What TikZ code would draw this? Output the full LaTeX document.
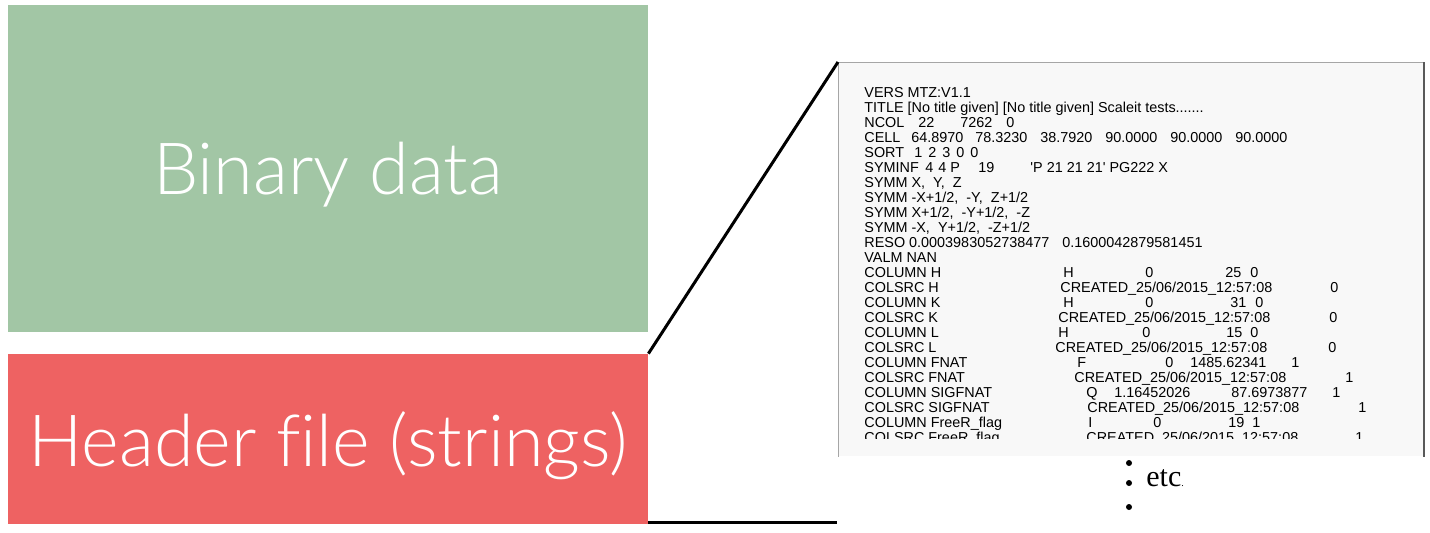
\documentclass[tikz,border=0pt]{standalone}
\usepackage{fontspec}
\setmainfont{Liberation Serif}
\newfontfamily\lightsans{Lato}[UprightFont=* Light,Ligatures=CommonOff]
\newfontfamily\mtzsans{Liberation Sans}[Ligatures=TeXOff]
\usetikzlibrary{positioning}
\definecolor{Sage}{HTML}{A2C6A5}
\definecolor{Coral}{HTML}{EE6262}
\definecolor{Sheet}{HTML}{F8F8F8}
\newcommand\stamp{CREATED\_25/06/2015\_12:57:08}

\begin{document}
\begin{tikzpicture}[x=0.5pt,y=-0.5pt,
part/.style={minimum width=320pt,inner sep=0pt,text=white,text depth=0pt,font=\lightsans\fontsize{36}{40}\selectfont},
mtz/.style={anchor=base west,inner sep=0pt,font=\mtzsans\fontsize{7.2}{8}\selectfont},
link/.style={line width=1.5pt,black},
dot/.style={circle,fill=black,inner sep=0pt,minimum size=3pt}]
\useasboundingbox (0,0) rectangle (1430,532);
\node[part,fill=Sage,minimum height=163.5pt] (bin) at (328,168.5) {Binary data};
\node[part,fill=Coral,minimum height=85pt] (hdr) at (328,439) {Header file (strings)};
% the header as text
\node[fill=Sheet,inner sep=0pt,minimum width=292.5pt,minimum height=197pt,anchor=north west] (sheet) at (838,62) {};
\draw[black!35] (sheet.south west) -- (sheet.north west) -- (sheet.north east);
\draw[black!65,line width=1pt] (sheet.north east) -- (sheet.south east);
\begin{scope}
\clip (sheet.north west) rectangle (1422,438);
\node[mtz] (l0) at (864,97) {VERS MTZ:V1.1};
\node[mtz] (l1) at (864,112) {TITLE [No title given] [No title given] Scaleit tests.......};
\node[mtz] (l2) at (864,127) {NCOL};
\foreach \x/\t in {918/22,960/7262,1006/0} \node[mtz] at (\x,127) {\t};
\node[mtz] (l3) at (864,142) {CELL};
\foreach \x/\t in {911/64.8970,975/78.3230,1040/38.7920,1105/90.0000,1170/90.0000,1235/90.0000} \node[mtz] at (\x,142) {\t};
\node[mtz] (l4) at (864,157) {SORT};
\foreach \x/\t in {914/1,928/2,942/3,956/0,970/0} \node[mtz] at (\x,157) {\t};
\node[mtz] (l5) at (864,172) {SYMINF};
\foreach \x/\t in {925/4,938/4,950/P,978/19,1030/{'P 21 21 21' PG222 X}} \node[mtz] at (\x,172) {\t};
\node[mtz] (l6) at (864,187) {SYMM X,\ \ Y,\ \ Z};
\node[mtz] (l7) at (864,202) {SYMM -X+1/2,\ \ -Y,\ \ Z+1/2};
\node[mtz] (l8) at (864,217) {SYMM X+1/2,\ \ -Y+1/2,\ \ -Z};
\node[mtz] (l9) at (864,232) {SYMM -X,\ \ Y+1/2,\ \ -Z+1/2};
\node[mtz] (l10) at (864,247) {RESO 0.0003983052738477};
\node[mtz] at (1062,247) {0.1600042879581451};
\node[mtz] (l11) at (864,262) {VALM NAN};
\node[mtz] (l12) at (864,277) {COLUMN H};
\foreach \x/\t in {1063/H,1145/0,1225/25,1250/0} \node[mtz] at (\x,277) {\t};
\node[mtz] (l13) at (864,292) {COLSRC H};
\foreach \x/\t in {1060/\stamp,1330/0} \node[mtz] at (\x,292) {\t};
\node[mtz] (l14) at (864,307) {COLUMN K};
\foreach \x/\t in {1063/H,1145/0,1230/31,1255/0} \node[mtz] at (\x,307) {\t};
\node[mtz] (l15) at (864,322) {COLSRC K};
\foreach \x/\t in {1058/\stamp,1329/0} \node[mtz] at (\x,322) {\t};
\node[mtz] (l16) at (864,337) {COLUMN L};
\foreach \x/\t in {1058/H,1142/0,1226/15,1250/0} \node[mtz] at (\x,337) {\t};
\node[mtz] (l17) at (864,352) {COLSRC L};
\foreach \x/\t in {1055/\stamp,1328/0} \node[mtz] at (\x,352) {\t};
\node[mtz] (l18) at (864,367) {COLUMN FNAT};
\foreach \x/\t in {1077/F,1165/0,1190/1485.62341,1291/1} \node[mtz] at (\x,367) {\t};
\node[mtz] (l19) at (864,382) {COLSRC FNAT};
\foreach \x/\t in {1074/\stamp,1345/1} \node[mtz] at (\x,382) {\t};
\node[mtz] (l20) at (864,397) {COLUMN SIGFNAT};
\foreach \x/\t in {1086/Q,1114/1.16452026,1231/87.6973877,1332/1} \node[mtz] at (\x,397) {\t};
\node[mtz] (l21) at (864,412) {COLSRC SIGFNAT};
\foreach \x/\t in {1087/\stamp,1358/1} \node[mtz] at (\x,412) {\t};
\node[mtz] (l22) at (864,427) {COLUMN FreeR\_flag};
\foreach \x/\t in {1088/I,1153/0,1228/19,1252/1} \node[mtz] at (\x,427) {\t};
\node[mtz] (l23) at (864,442) {COLSRC FreeR\_flag};
\foreach \x/\t in {1086/\stamp,1355/1} \node[mtz] at (\x,442) {\t};
\end{scope}
% etc. below the sheet
\node[dot] (d1) at (1129,463) {};
\node[dot] (d2) at (1129,483) {};
\node[dot] (d3) at (1129,507) {};
\node[anchor=base west,inner sep=0pt,font=\fontsize{15}{18}\selectfont] (etc) at (1146,486) {etc{\fontsize{5}{6}\selectfont.}};
% zoom lines
\coordinate (tail) at (837,522);
\draw[link] (hdr.north east) -- (sheet.north west);
\draw[link] (hdr.south east |- tail) -- (tail);
\end{tikzpicture}
\end{document}
